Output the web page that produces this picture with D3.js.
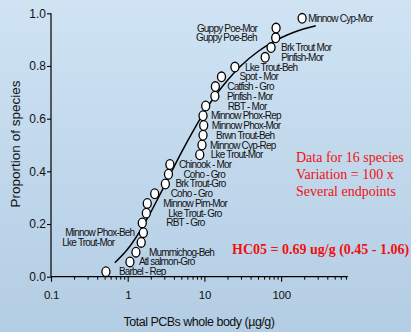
<!DOCTYPE html>
<html>
<head>
<meta charset="utf-8">
<script src="https://cdn.jsdelivr.net/npm/d3@7/dist/d3.min.js"></script>
<style>
  html, body { margin: 0; padding: 0; }
  body { width: 411px; height: 332px; overflow: hidden; }
  svg { display: block; }
</style>
</head>
<body>
<svg id="chart" width="411" height="332"></svg>
<script>
// ---- data ----
const labels = [
  "Barbel - Rep", "Atl salmon-Gro", "Mummichog-Beh", "Lke Trout-Mor", "Minnow Phox-Beh",
  "RBT - Gro", "Lke Trout- Gro", "Minnow Pim-Mor", "Coho - Gro", "Brk Trout-Gro",
  "Coho - Gro", "Chinook - Mor", "Lke Trout-Mor", "Minnow Cyp-Rep", "Brwn Trout-Beh",
  "Minnow Phox-Mor", "Minnow Phox-Rep", "RBT - Mor", "Pinfish - Mor", "Catfish - Gro",
  "Spot - Mor", "Lke Trout-Beh", "Pinfish-Mor", "Brk Trout Mor", "Guppy Poe-Beh",
  "Guppy Poe-Mor", "Minnow Cyp-Mor"
];
const concentration = [
  0.52, 1.07, 1.28, 1.5, 1.6,
  1.55, 1.75, 1.8, 2.25, 3.1,
  3.4, 3.55, 8.7, 9.3, 9.6,
  9.8, 9.6, 10.4, 13.7, 13.9,
  16.7, 25, 62, 74, 85,
  86, 188
];
const proportion = [
  0.019, 0.056, 0.093, 0.130, 0.167,
  0.204, 0.241, 0.278, 0.315, 0.352,
  0.389, 0.426, 0.463, 0.500, 0.537,
  0.574, 0.611, 0.648, 0.685, 0.722,
  0.759, 0.796, 0.833, 0.870, 0.907,
  0.944, 0.981
];
// fitted distribution curve (x, proportion)
const curveX = [0.68, 1, 1.5, 2, 3, 5, 7, 10, 15, 20, 30, 50, 70, 100, 150, 200, 283];
const curveP = [0.053, 0.105, 0.181, 0.245, 0.344, 0.471, 0.549, 0.626, 0.700, 0.746, 0.801, 0.855, 0.883, 0.907, 0.929, 0.941, 0.953];

const yTicks = [0, 0.2, 0.4, 0.6, 0.8, 1.0];
const xMajorTicks = [0.1, 1, 10, 100];
const xMinorTicks = [0.2,0.3,0.4,0.5,0.6,0.7,0.8,0.9, 2,3,4,5,6,7,8,9, 20,30,40,50,60,70,80,90, 200,300,400,500,600,700];
const noteLines = ["Data for 16 species", "Variation = 100 x", "Several endpoints"];
const hc05Text = "HC05 = 0.69 ug/g (0.45 - 1.06)";
const xTitle = "Total PCBs whole body (\u00b5g/g)";
const yTitle = "Proportion of species";

// ---- layout (pixel offsets of labels from their points; negative = label on the left) ----
const labelDx = [
  13, 9, 13, -27, -9,
  24, 22, 16, 16, 10,
  15, 9, 11, 8, 13,
  8, 8, 22, 12, 12,
  18, 10, 16, 10, -19,
  -19, 6
];

const W = 411, H = 332;
const svg = d3.select("#chart");

// background gradient
const defs = svg.append("defs");
const grad = defs.append("linearGradient").attr("id", "bg").attr("x1", 0).attr("y1", 0).attr("x2", 0).attr("y2", 1);
grad.append("stop").attr("offset", "0%").attr("stop-color", "#cfe3f3");
grad.append("stop").attr("offset", "100%").attr("stop-color", "#b3cde4");
svg.append("rect").attr("width", W).attr("height", H).attr("fill", "url(#bg)");

const x0 = 51, decade = 76.7;
const x = d3.scaleLog().domain([0.1, 740]).range([x0, x0 + Math.log10(7400) * decade]);
const y = d3.scaleLinear().domain([0, 1]).range([276.7, 13.3]);

const sans = "'Liberation Sans', Arial, sans-serif";
const serif = "'Liberation Serif', 'Times New Roman', serif";

// y axis
const yAxis = svg.append("g").attr("transform", `translate(${x0},0)`)
  .call(d3.axisLeft(y).tickValues(yTicks).tickFormat(d3.format(".1f")).tickSize(4).tickPadding(1));
yAxis.select(".domain").attr("stroke", "#000").attr("stroke-width", 1.2).attr("d", `M0,${y(1)}V${y(0)}`);
yAxis.selectAll(".tick line").attr("stroke", "#000").attr("stroke-width", 1.1);
yAxis.selectAll(".tick text").attr("font-family", sans).attr("font-size", 12).attr("fill", "#111");

// x axis major
const xAxis = svg.append("g").attr("transform", `translate(0,${y(0)})`)
  .call(d3.axisBottom(x).tickValues(xMajorTicks).tickFormat(d3.format("~g")).tickSize(5).tickPadding(9));
xAxis.select(".domain").attr("stroke", "#000").attr("stroke-width", 1.2).attr("d", `M${x0},0H${x.range()[1]}`);
xAxis.selectAll(".tick line").attr("stroke", "#000").attr("stroke-width", 1.1);
xAxis.selectAll(".tick text").attr("font-family", sans).attr("font-size", 11.5).attr("fill", "#111").attr("letter-spacing", "-0.3px");

// x axis minor
const xMinor = svg.append("g").attr("transform", `translate(0,${y(0)})`)
  .call(d3.axisBottom(x).tickValues(xMinorTicks).tickFormat("").tickSize(3));
xMinor.select(".domain").remove();
xMinor.selectAll(".tick line").attr("stroke", "#000").attr("stroke-width", 1);

// axis titles
svg.append("text").attr("x", 199).attr("y", 326).attr("text-anchor", "middle")
  .attr("font-family", sans).attr("font-size", 12.5).attr("letter-spacing", "-0.5px").attr("fill", "#111").text(xTitle);
svg.append("text").attr("transform", "translate(20,144) rotate(-90)").attr("text-anchor", "middle")
  .attr("font-family", sans).attr("font-size", 13.5).attr("fill", "#111").text(yTitle);

// fitted curve
const curveData = curveX.map((v, i) => [v, curveP[i]]);
svg.append("path").datum(curveData)
  .attr("d", d3.line().x(d => x(d[0])).y(d => y(d[1])).curve(d3.curveMonotoneX))
  .attr("fill", "none").attr("stroke", "#000").attr("stroke-width", 1.5);

// points
const pts = concentration.map((c, i) => ({ c, p: proportion[i], label: labels[i], dx: labelDx[i] }));
svg.append("g").selectAll("ellipse").data(pts).join("ellipse")
  .attr("cx", d => x(d.c)).attr("cy", d => y(d.p))
  .attr("rx", 4).attr("ry", 4.8)
  .attr("fill", "#fff").attr("stroke", "#000").attr("stroke-width", 1.3);

// point labels
svg.append("g").selectAll("text").data(pts).join("text")
  .attr("x", d => x(d.c) + d.dx).attr("y", d => y(d.p))
  .attr("dy", "0.35em")
  .attr("text-anchor", d => d.dx < 0 ? "end" : "start")
  .attr("font-family", sans).attr("font-size", 10).attr("letter-spacing", "-0.8px").attr("fill", "#111")
  .text(d => d.label);

// red notes
svg.append("g").selectAll("text").data(noteLines).join("text")
  .attr("x", 296).attr("y", (d, i) => 162 + i * 17.2)
  .attr("font-family", serif).attr("font-size", 14).attr("fill", "#f01010")
  .text(d => d);
svg.append("text").attr("x", 232).attr("y", 254)
  .attr("font-family", serif).attr("font-size", 14).attr("font-weight", "bold").attr("fill", "#f01010")
  .text(hc05Text);
</script>
</body>
</html>
